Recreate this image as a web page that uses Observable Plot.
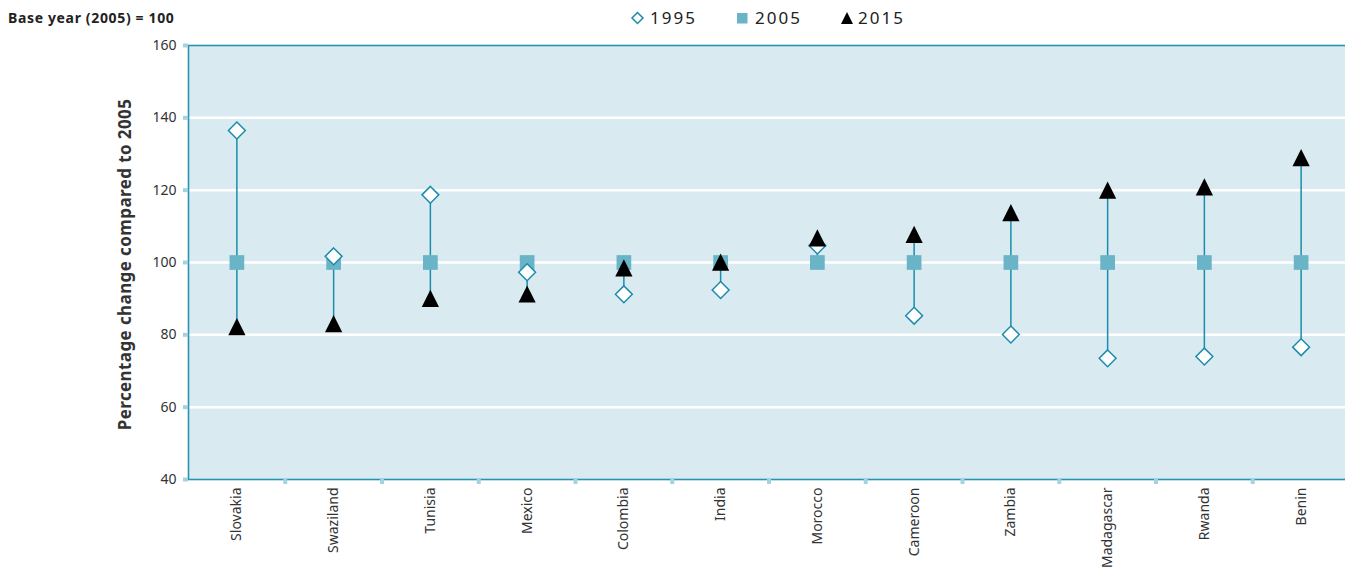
<!DOCTYPE html>
<html>
<head>
<meta charset="utf-8">
<script src="https://cdn.jsdelivr.net/npm/d3@7"></script>
<script src="https://cdn.jsdelivr.net/npm/@observablehq/plot@0.6"></script>
<style>
  body { margin: 0; background: #fff; font-family: "Noto Sans", sans-serif; }
  #wrap { position: relative; width: 1345px; height: 571px; overflow: hidden; }
  #chart { position: absolute; left: 0; top: 0; }
  #overlay { position: absolute; left: 0; top: 0; pointer-events: none; }
</style>
</head>
<body>
<div id="wrap">
  <div id="chart"></div>
  <svg id="overlay" width="1345" height="40" xmlns="http://www.w3.org/2000/svg" font-family="Noto Sans, sans-serif">
    <text x="8" y="23" font-size="14" font-weight="bold" letter-spacing="0.65" fill="#222">Base year (2005) = 100</text>
    <polygon points="637.5,12.5 643,18 637.5,23.5 632,18" fill="#fff" stroke="#1b8cab" stroke-width="1.5"></polygon>
    <text x="650" y="24" font-size="17" letter-spacing="2" fill="#222">1995</text>
    <rect x="737" y="13" width="10.5" height="10.5" fill="#6ab4c8"></rect>
    <text x="755" y="24" font-size="17" letter-spacing="2" fill="#222">2005</text>
    <polygon points="847,12 841,24 853,24" fill="#000"></polygon>
    <text x="858" y="24" font-size="17" letter-spacing="2" fill="#222">2015</text>
  </svg>
</div>
<script>
const countries = ["Slovakia","Swaziland","Tunisia","Mexico","Colombia","India","Morocco","Cameroon","Zambia","Madagascar","Rwanda","Benin"];
const v1995 = [136.5, 101.7, 118.7, 97.3, 91.2, 92.4, 104.7, 85.3, 80.1, 73.5, 74.0, 76.6];
const v2005 = [100, 100, 100, 100, 100, 100, 100, 100, 100, 100, 100, 100];
const v2015 = [81.5, 82.3, 89.3, 90.5, 97.7, 99.3, 106.0, 107.0, 113.0, 119.2, 120.1, 128.2];
const yTicks = [40, 60, 80, 100, 120, 140, 160];
const gridTicks = [60, 80, 100, 120, 140];
const yLabel = "Percentage change compared to 2005";

const rows = countries.map((c, i) => ({
  country: c,
  pos: i + 0.5,
  y1995: v1995[i],
  y2005: v2005[i],
  y2015: v2015[i],
  lo: Math.min(v1995[i], v2005[i], v2015[i]),
  hi: Math.max(v1995[i], v2005[i], v2015[i])
}));

// triangle whose width equals its height, centred on its centroid
const triangleEq = {
  draw(context, size) {
    const w = 2 * Math.sqrt(size / Math.PI);
    const h = w;
    context.moveTo(0, -2 * h / 3);
    context.lineTo(w / 2, h / 3);
    context.lineTo(-w / 2, h / 3);
    context.closePath();
  }
};

const teal = "#1b8cab";

const chart = Plot.plot({
  width: 1345,
  height: 571,
  marginTop: 45,
  marginBottom: 92,
  marginLeft: 188,
  marginRight: -4,
  style: { fontFamily: "Noto Sans, sans-serif", background: "transparent", overflow: "visible" },
  x: { domain: [0, countries.length], axis: null },
  y: { domain: [40, 160], axis: null },
  marks: [
    Plot.frame({ fill: "#d9ebf1" }),
    Plot.gridY(gridTicks, { stroke: "#ffffff", strokeOpacity: 1, strokeWidth: 2.5 }),
    Plot.frame({ stroke: "#2a93b0", strokeWidth: 1.6 }),
    Plot.axisY({
      ticks: yTicks, tickSize: 5, tickPadding: 7, stroke: "#a4d3df", strokeWidth: 4,
      fill: "#333", fontSize: 14, label: null
    }),
    Plot.axisX({
      ticks: d3.range(1, countries.length), tickSize: 5, stroke: "#a4d3df", strokeWidth: 4,
      tickFormat: () => "", label: null
    }),
    Plot.axisX({
      ticks: rows.map(d => d.pos), tickSize: 0, tickPadding: 8, tickRotate: -90,
      tickFormat: v => countries[Math.floor(v)], fill: "#333", fontSize: 14, label: null
    }),
    Plot.text([yLabel], {
      frameAnchor: "left", dx: -63, dy: 2, rotate: -90, fontSize: 17, fontWeight: "bold",
      textAnchor: "middle", lineAnchor: "middle", fill: "#333", text: d => d,
      style: "letter-spacing:0.4px"
    }),
    Plot.ruleX(rows, { x: "pos", y1: "lo", y2: "hi", stroke: teal, strokeWidth: 1.5 }),
    Plot.dot(rows, { x: "pos", y: "y2005", symbol: "square", r: 8.3, fill: "#6ab4c8", stroke: "none" }),
    Plot.dot(rows, { x: "pos", y: "y1995", symbol: "diamond2", r: 7.6, fill: "#ffffff", stroke: teal, strokeWidth: 1.5 }),
    Plot.dot(rows, { x: "pos", y: "y2015", symbol: triangleEq, r: 8.6, fill: "#000000", stroke: "none" })
  ]
});
// letter-spacing for the y-axis title
d3.select(chart).selectAll("text").filter(function () { return this.textContent === yLabel; })
  .style("letter-spacing", "0.4px");
document.getElementById("chart").appendChild(chart);
</script>
</body>
</html>
